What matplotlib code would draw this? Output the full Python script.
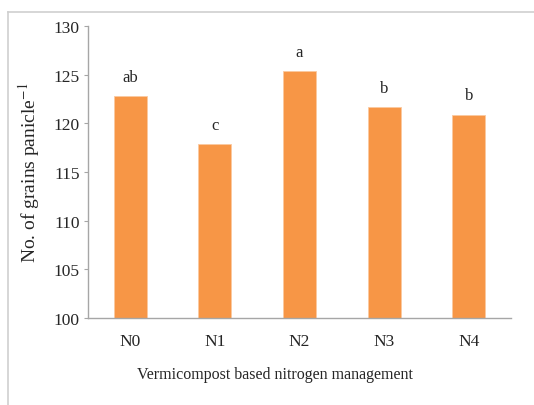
import matplotlib
matplotlib.use('Agg')
import matplotlib.pyplot as plt
from matplotlib.lines import Line2D

# Данные с графика
treatments = ['N0', 'N1', 'N2', 'N3', 'N4']
grains = [122.8, 117.9, 125.4, 121.7, 120.9]
letters = ['ab', 'c', 'a', 'b', 'b']

plt.rcParams['font.family'] = ['Liberation Serif', 'DejaVu Serif']
plt.rcParams['mathtext.fontset'] = 'stix'

fig = plt.figure(figsize=(5.34, 4.06), dpi=100)
ax = fig.add_axes([88 / 534, 1 - 319 / 406, 423 / 534, 292 / 406])

# рамка вокруг рисунка (видны только левая и верхняя стороны)
x0, y1 = 8 / 534, 1 - 13 / 406
fig.add_artist(Line2D([x0, x0], [0, y1], transform=fig.transFigure, color='#cfcfcf', linewidth=1.2))
fig.add_artist(Line2D([x0, 1], [y1, y1], transform=fig.transFigure, color='#cfcfcf', linewidth=1.2))

x = range(len(treatments))
ax.bar(x, grains, width=0.39, color='#F79646', edgecolor='#FBC9A0', linewidth=0.6, zorder=2)

for i, (v, t) in enumerate(zip(grains, letters)):
    ax.annotate(t, (i, v), xytext=(0, 8), textcoords='offset points',
                ha='center', va='bottom', fontsize=12, color='#262626')

ax.set_ylim(100, 130)
ax.set_xlim(-0.5, 4.5)
ax.set_yticks(range(100, 131, 5))
ax.set_xticks(list(x))
ax.set_xticklabels(treatments)

for side in ['top', 'right']:
    ax.spines[side].set_visible(False)
for side in ['left', 'bottom']:
    ax.spines[side].set_color('#a6a6a6')
    ax.spines[side].set_linewidth(1.0)

ax.tick_params(axis='y', length=3, color='#a6a6a6', labelsize=12.5, labelcolor='#262626', pad=3)
ax.tick_params(axis='x', length=0, labelsize=12.5, labelcolor='#262626', pad=11)

ax.set_ylabel('No. of grains panicle$^{-1}$', fontsize=14, color='#262626', labelpad=8)
ax.set_xlabel('Vermicompost based nitrogen management', fontsize=11.5, color='#262626')
ax.xaxis.set_label_coords(0.442, -0.165)

fig.savefig('out.png', dpi=100)
